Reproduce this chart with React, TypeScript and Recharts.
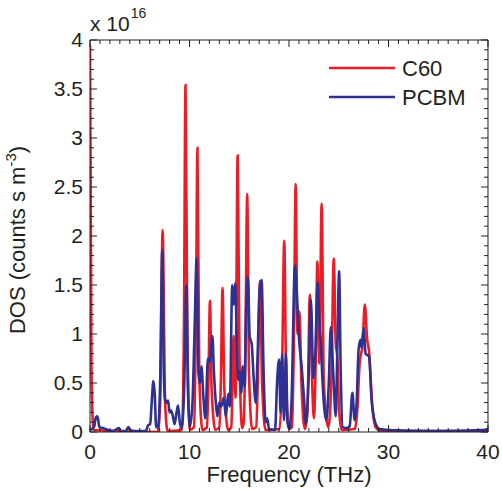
import { LineChart, Line, XAxis, YAxis, Legend, Label } from 'recharts';

// frequency (THz), DOS (x 1e16 counts s m^-3)
const c60Points: [number, number][] = [
  [0, 3.95], [0.15, 0.6], [0.35, 0.02], [6.8, 0.0], [7.05, 0.3], [7.3, 2.06], [7.55, 0.3], [7.8, 0.01],
  [9.25, 0.02], [9.45, 1.2], [9.6, 3.54], [9.78, 1.0], [10.05, 0.02], [10.45, 0.05], [10.65, 1.2],
  [10.8, 2.9], [10.98, 0.6], [11.3, 0.02], [11.75, 0.05], [11.9, 0.5], [12.06, 1.34], [12.22, 0.45],
  [12.6, 0.02], [13.0, 0.05], [13.15, 0.5], [13.32, 1.47], [13.5, 0.45], [13.9, 0.02], [14.2, 0.05],
  [14.45, 0.98], [14.62, 0.35], [14.84, 2.82], [15.02, 0.8], [15.3, 0.04], [15.45, 0.1], [15.62, 0.9],
  [15.8, 2.43], [15.98, 0.6], [16.3, 0.03], [16.7, 0.05], [16.88, 0.6], [17.08, 1.54], [17.3, 0.5],
  [17.65, 0.02], [19.05, 0.03], [19.3, 0.6], [19.52, 1.95], [19.72, 0.5], [20.0, 0.03], [20.3, 0.05],
  [20.5, 1.0], [20.67, 2.53], [20.85, 1.0], [21.05, 1.23], [21.25, 0.5], [21.6, 0.03], [21.85, 0.2],
  [22.1, 1.4], [22.3, 0.6], [22.5, 0.14], [22.7, 0.8], [22.85, 1.74], [23.05, 0.7], [23.28, 2.33],
  [23.5, 0.5], [23.95, 0.05], [24.25, 0.5], [24.5, 1.77], [24.7, 0.9], [24.85, 0.77], [25.05, 0.2],
  [25.3, 0.02], [26.6, 0.03], [26.85, 0.2], [27.1, 0.7], [27.4, 0.9], [27.62, 1.3], [27.85, 0.95],
  [28.05, 0.82], [28.35, 0.3], [28.7, 0.05], [29.2, 0.01], [40, 0.01],
];

const pcbmPoints: [number, number][] = [
  [0, 0.02], [0.4, 0.05], [0.6, 0.15], [0.75, 0.16], [0.95, 0.05], [1.3, 0.04], [1.8, 0.02], [2.3, 0.01],
  [2.7, 0.03], [2.9, 0.04], [3.1, 0.01], [3.6, 0.01], [3.85, 0.05], [4.05, 0.02], [4.5, 0.01], [5.6, 0.01],
  [5.85, 0.07], [6.05, 0.08], [6.2, 0.3], [6.37, 0.52], [6.5, 0.4], [6.65, 0.05], [6.85, 0.05], [7.05, 0.5],
  [7.27, 1.86], [7.42, 0.6], [7.55, 0.33], [7.7, 0.3], [7.85, 0.32], [8.0, 0.2], [8.15, 0.22], [8.35, 0.15],
  [8.5, 0.08], [8.7, 0.2], [8.85, 0.27], [9.0, 0.12], [9.2, 0.04], [9.45, 0.4], [9.7, 1.5], [9.85, 0.4],
  [10.05, 0.06], [10.3, 0.3], [10.5, 1.0], [10.72, 1.77], [10.9, 0.6], [11.05, 0.5], [11.2, 0.67],
  [11.4, 0.35], [11.6, 0.14], [11.85, 0.75], [12.05, 0.72], [12.3, 0.98], [12.45, 0.62], [12.65, 0.3],
  [12.8, 0.16], [13.0, 0.3], [13.2, 0.26], [13.45, 0.35], [13.65, 0.16], [13.9, 0.39], [14.05, 0.26],
  [14.3, 1.5], [14.45, 1.3], [14.6, 1.52], [14.75, 0.95], [14.9, 0.53], [15.05, 0.62], [15.2, 0.4],
  [15.35, 0.67], [15.55, 0.46], [15.7, 1.3], [15.88, 1.58], [16.05, 0.97], [16.25, 0.9], [16.45, 0.55],
  [16.65, 0.3], [16.85, 0.8], [17.05, 1.45], [17.25, 1.55], [17.45, 0.6], [17.65, 0.1], [17.8, 0.14],
  [18.0, 0.03], [18.6, 0.02], [18.8, 0.5], [19.0, 0.74], [19.15, 0.2], [19.3, 0.79], [19.5, 0.12],
  [19.7, 0.8], [19.85, 0.1], [20.05, 0.03], [20.25, 0.3], [20.6, 1.7], [20.85, 1.28], [21.0, 0.97],
  [21.3, 0.63], [21.5, 0.35], [21.7, 0.08], [21.95, 0.5], [22.2, 1.35], [22.45, 0.55], [22.65, 0.8],
  [22.87, 1.53], [23.1, 1.05], [23.2, 0.92], [23.35, 0.56], [23.75, 0.12], [24.0, 0.5], [24.2, 1.07],
  [24.45, 0.6], [24.7, 0.16], [24.85, 0.8], [25.04, 1.64], [25.2, 0.6], [25.4, 0.05], [25.8, 0.04],
  [26.1, 0.06], [26.37, 0.4], [26.6, 0.12], [26.8, 0.3], [27.0, 0.85], [27.2, 0.94], [27.3, 0.86],
  [27.5, 1.06], [27.7, 0.8], [28.05, 0.77], [28.3, 0.33], [28.65, 0.1], [29.1, 0.03], [30, 0.02],
  [35, 0.01], [39.5, 0.02], [40, 0.03],
];

const xTicks = Array.from({ length: 41 }, (_, i) => i);
const yTicks = Array.from({ length: 41 }, (_, i) => i / 10);

const c60Data = c60Points.map(([f, v]) => ({ f, v }));
const pcbmData = pcbmPoints.map(([f, v]) => ({ f, v }));

const FONT = '"Liberation Sans", Arial, Helvetica, sans-serif';
const INK = '#231f20';
const RED = '#ed1c24';
const BLUE = '#2e3192';

const isMajorY = (v: number) => Math.abs(v * 2 - Math.round(v * 2)) < 1e-6;

const BottomTick = (props: any) => {
  const { x, y, payload } = props;
  const v = payload.value;
  const major = v % 10 === 0;
  return (
    <g>
      <line x1={x} x2={x} y1={y} y2={y - (major ? 7 : 4)} stroke={INK} />
      {major && (
        <text x={x} y={y + 27} textAnchor="middle" fontSize={21} fontFamily={FONT} fill={INK}>
          {v}
        </text>
      )}
    </g>
  );
};

const TopTick = (props: any) => {
  const { x, y, payload } = props;
  const major = payload.value % 10 === 0;
  return <line x1={x} x2={x} y1={y} y2={y + (major ? 7 : 4)} stroke={INK} />;
};

const LeftTick = (props: any) => {
  const { x, y, payload } = props;
  const v = payload.value;
  const major = isMajorY(v);
  return (
    <g>
      <line x1={x} x2={x + (major ? 7 : 4)} y1={y} y2={y} stroke={INK} />
      {major && (
        <text x={x - 7} y={y + 7} textAnchor="end" fontSize={21} fontFamily={FONT} fill={INK}>
          {String(Math.round(v * 10) / 10)}
        </text>
      )}
    </g>
  );
};

const RightTick = (props: any) => {
  const { x, y, payload } = props;
  const major = isMajorY(payload.value);
  return <line x1={x} x2={x - (major ? 7 : 4)} y1={y} y2={y} stroke={INK} />;
};

const LegendBox = (props: any) => {
  const items = props.payload || [];
  return (
    <svg width={170} height={64}>
      {items.map((it: any, i: number) => (
        <g key={it.value}>
          <line x1={0} x2={66} y1={15 + i * 29} y2={15 + i * 29} stroke={it.color} strokeWidth={2.6} />
          <text x={73} y={15 + i * 29 + 8} fontSize={22} fontFamily={FONT} fill={INK}>
            {it.value}
          </text>
        </g>
      ))}
    </svg>
  );
};

export default function App() {
  return (
    <div style={{ position: 'absolute', left: 0, top: 0, width: 502, height: 490 }}>
      <LineChart width={502} height={490} margin={{ top: 38, right: 14, bottom: 8, left: 8 }}>
        <XAxis
          xAxisId="bottom"
          type="number"
          dataKey="f"
          domain={[0, 40]}
          ticks={xTicks}
          interval={0}
          tickSize={0}
          tickMargin={0}
          tick={BottomTick}
          tickLine={false}
          axisLine={{ stroke: INK }}
          height={50}
          allowDataOverflow
        >
          <Label
            content={(p: any) => {
              const vb = p.viewBox;
              return (
                <text x={vb.x + vb.width / 2} y={vb.y + 50} textAnchor="middle" fontSize={22} fontFamily={FONT} fill={INK}>
                  Frequency (THz)
                </text>
              );
            }}
          />
        </XAxis>
        <XAxis
          xAxisId="top"
          orientation="top"
          type="number"
          dataKey="f"
          domain={[0, 40]}
          ticks={xTicks}
          interval={0}
          tickSize={0}
          tickMargin={0}
          tick={TopTick}
          tickLine={false}
          axisLine={{ stroke: INK }}
          height={2}
          allowDataOverflow
        >
          <Label
            content={(p: any) => {
              const vb = p.viewBox;
              return (
                <text x={vb.x} y={vb.y - 7} fontSize={21} fontFamily={FONT} fill={INK}>
                  x 10
                  <tspan dx={1} dy={-13} fontSize={14}>
                    16
                  </tspan>
                </text>
              );
            }}
          />
        </XAxis>
        <YAxis
          yAxisId="left"
          type="number"
          domain={[0, 4]}
          ticks={yTicks}
          interval={0}
          tickSize={0}
          tickMargin={0}
          tick={LeftTick}
          tickLine={false}
          axisLine={{ stroke: INK }}
          width={82}
          allowDataOverflow
        >
          <Label
            content={(p: any) => {
              const vb = p.viewBox;
              const cx = vb.x + 8.5;
              const cy = vb.y + vb.height / 2 + 4;
              return (
                <text
                  x={cx}
                  y={cy + 8}
                  transform={`rotate(-90, ${cx}, ${cy})`}
                  textAnchor="middle"
                  fontSize={22}
                  fontFamily={FONT}
                  fill={INK}
                >
                  DOS (counts s m
                  <tspan dy={-9} fontSize={15}>
                    -3
                  </tspan>
                  <tspan dy={9}>)</tspan>
                </text>
              );
            }}
          />
        </YAxis>
        <YAxis
          yAxisId="right"
          orientation="right"
          type="number"
          domain={[0, 4]}
          ticks={yTicks}
          interval={0}
          tickSize={0}
          tickMargin={0}
          tick={RightTick}
          tickLine={false}
          axisLine={{ stroke: INK }}
          width={0.01}
          allowDataOverflow
        />
        <Legend
          layout="vertical"
          align="center"
          verticalAlign="middle"
          content={LegendBox}
          wrapperStyle={{ top: 53, left: 329, width: 170 }}
        />
        <Line
          xAxisId="bottom"
          yAxisId="left"
          data={c60Data}
          dataKey="v"
          name="C60"
          type="monotone"
          stroke={RED}
          strokeWidth={2.6}
          dot={false}
          isAnimationActive={false}
        />
        <Line
          xAxisId="bottom"
          yAxisId="left"
          data={pcbmData}
          dataKey="v"
          name="PCBM"
          type="monotone"
          stroke={BLUE}
          strokeWidth={2.6}
          dot={false}
          isAnimationActive={false}
        />
      </LineChart>
    </div>
  );
}
